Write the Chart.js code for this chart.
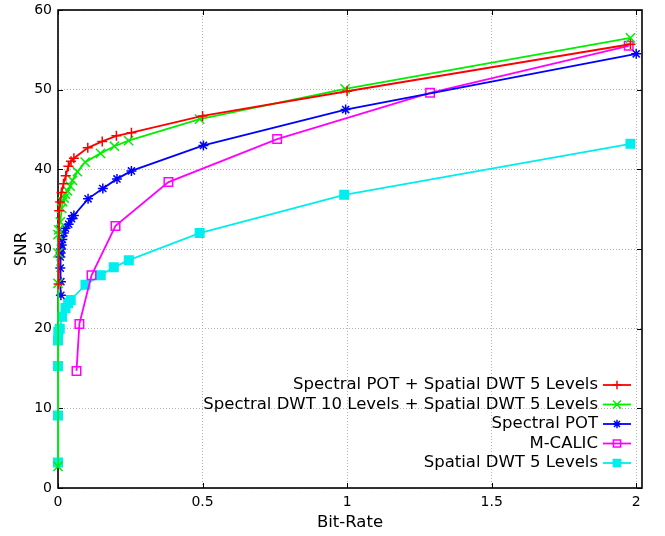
<!DOCTYPE html>
<html>
<head>
<meta charset="utf-8">
<script src="https://cdn.jsdelivr.net/npm/chart.js@4.4.1/dist/chart.umd.min.js"></script>
<style>
  html, body { margin: 0; padding: 0; background: #fff; }
  #wrap { width: 665px; height: 536px; position: relative; }
</style>
</head>
<body>
<div id="wrap"><canvas id="c" width="665" height="536"></canvas></div>
<script>
// Rate–distortion curves: SNR versus bit-rate for five coders.
const xTicks = [0, 0.5, 1, 1.5, 2];
const yTicks = [0, 10, 20, 30, 40, 50, 60];

const potDwtRate = [0.002, 0.004, 0.0075, 0.012, 0.019, 0.027, 0.036, 0.045, 0.055, 0.103, 0.153, 0.202, 0.254, 0.5, 1.0, 1.98];
const potDwtSnr  = [25.6, 34.8, 35.9, 37.1, 38.2, 39.2, 40.4, 41.0, 41.4, 42.7, 43.5, 44.2, 44.6, 46.7, 49.8, 55.7];

const dwt10Rate = [0.0, 0.0, 0.0, 0.0, 0.002, 0.008, 0.013, 0.016, 0.021, 0.025, 0.033, 0.042, 0.05, 0.067, 0.094, 0.147, 0.195, 0.244, 0.49, 0.993, 1.98];
const dwt10Snr  = [2.7, 25.7, 29.5, 31.8, 32.4, 33.4, 35.1, 35.9, 36.4, 36.9, 37.3, 37.9, 38.6, 39.7, 40.9, 42.0, 42.9, 43.6, 46.3, 50.1, 56.5];

const potRate = [0.01, 0.01, 0.008, 0.008, 0.009, 0.011, 0.013, 0.015, 0.02, 0.026, 0.037, 0.047, 0.055, 0.104, 0.155, 0.204, 0.254, 0.503, 0.995, 2.0];
const potSnr  = [24.2, 25.9, 27.6, 29.0, 29.5, 30.0, 30.5, 31.2, 32.0, 32.6, 33.1, 33.8, 34.2, 36.3, 37.6, 38.8, 39.8, 43.0, 47.5, 54.5];

const calicRate = [0.064, 0.074, 0.116, 0.199, 0.382, 0.758, 1.287, 1.974];
const calicSnr  = [14.7, 20.6, 26.7, 32.9, 38.4, 43.8, 49.6, 55.5];

const dwt5Rate = [0.0, 0.0, 0.0, 0.0, 0.001, 0.006, 0.014, 0.026, 0.035, 0.044, 0.095, 0.148, 0.193, 0.245, 0.49, 0.99, 1.98];
const dwt5Snr  = [3.2, 9.1, 15.3, 18.5, 19.6, 20.0, 21.5, 22.6, 23.2, 23.6, 25.5, 26.7, 27.7, 28.6, 32.0, 36.8, 43.2];

const seriesNames = [
  'Spectral POT + Spatial DWT 5 Levels',
  'Spectral DWT 10 Levels + Spatial DWT 5 Levels',
  'Spectral POT',
  'M-CALIC',
  'Spatial DWT 5 Levels'
];

const pairs = (xs, ys) => xs.map((x, i) => ({ x: x, y: ys[i] }));

const FONT = "'DejaVu Sans', sans-serif";

// Marker radius per point style, so every glyph is about 9–10 px across.
const markerRadius = { cross: 5, crossRot: 6.5, star: 5, rect: 6 };

function series(label, xs, ys, color, style, filled) {
  return {
    label: label,
    data: pairs(xs, ys),
    borderColor: color,
    backgroundColor: filled ? color : 'rgba(0,0,0,0)',
    pointBorderColor: color,
    pointBackgroundColor: filled ? color : 'rgba(0,0,0,0)',
    pointStyle: style,
    pointRadius: markerRadius[style],
    pointBorderWidth: 1.5,
    borderWidth: 1.8,
    tension: 0,
    fill: false,
    clip: false
  };
}

const datasets = [
  series(seriesNames[0], potDwtRate, potDwtSnr, '#ff0000', 'cross', false),
  series(seriesNames[1], dwt10Rate, dwt10Snr, '#00ee00', 'crossRot', false),
  series(seriesNames[2], potRate, potSnr, '#0000ff', 'star', false),
  series(seriesNames[3], calicRate, calicSnr, '#ff00ff', 'rect', false),
  series(seriesNames[4], dwt5Rate, dwt5Snr, '#00eeee', 'rect', true)
];

// Frame around the plot with inward tick marks on all four sides.
const framePlugin = {
  id: 'frame',
  beforeDatasetsDraw(chart) {
    const { ctx, chartArea: a, scales } = chart;
    ctx.save();
    ctx.strokeStyle = '#000';
    ctx.lineWidth = 1;
    const t = 5;
    scales.x.ticks.forEach(tk => {
      const px = Math.round(scales.x.getPixelForValue(tk.value)) + 0.5;
      ctx.beginPath();
      ctx.moveTo(px, a.bottom); ctx.lineTo(px, a.bottom - t);
      ctx.moveTo(px, a.top); ctx.lineTo(px, a.top + t);
      ctx.stroke();
    });
    scales.y.ticks.forEach(tk => {
      const py = Math.round(scales.y.getPixelForValue(tk.value)) + 0.5;
      ctx.beginPath();
      ctx.moveTo(a.left, py); ctx.lineTo(a.left + t, py);
      ctx.moveTo(a.right, py); ctx.lineTo(a.right - t, py);
      ctx.stroke();
    });
    ctx.lineWidth = 1.6;
    ctx.strokeRect(a.left, a.top, a.right - a.left, a.bottom - a.top);
    ctx.restore();
  }
};

// Key in the lower right: right-aligned names followed by a line sample.
const keyPlugin = {
  id: 'key',
  afterDatasetsDraw(chart) {
    const { ctx, chartArea: a } = chart;
    const rowH = 19.5;
    const lastY = a.bottom - 25;
    const sampleR = a.right - 11;
    const sampleL = sampleR - 28;
    const textR = sampleL - 5;
    ctx.save();
    ctx.font = '16.5px ' + FONT;
    ctx.textAlign = 'right';
    ctx.textBaseline = 'middle';
    const n = chart.data.datasets.length;
    chart.data.datasets.forEach((ds, i) => {
      const y = lastY - (n - 1 - i) * rowH;
      ctx.fillStyle = '#000';
      ctx.fillText(ds.label, textR, y);
      ctx.strokeStyle = ds.borderColor;
      ctx.lineWidth = ds.borderWidth;
      ctx.beginPath();
      ctx.moveTo(sampleL, y); ctx.lineTo(sampleR, y);
      ctx.stroke();
      ctx.fillStyle = ds.pointBackgroundColor;
      ctx.strokeStyle = ds.pointBorderColor;
      ctx.lineWidth = ds.pointBorderWidth;
      Chart.helpers.drawPoint(ctx, {
        pointStyle: ds.pointStyle,
        radius: ds.pointRadius * 0.85,
        borderWidth: ds.pointBorderWidth,
        rotation: 0
      }, (sampleL + sampleR) / 2, y);
    });
    ctx.restore();
  }
};

new Chart(document.getElementById('c'), {
  type: 'line',
  data: { datasets: datasets },
  options: {
    responsive: false,
    animation: false,
    devicePixelRatio: 1,
    layout: { padding: { top: 10, right: 23, left: 0, bottom: 0 } },
    plugins: { legend: { display: false }, tooltip: { enabled: false } },
    scales: {
      x: {
        type: 'linear',
        min: 0,
        max: 2.02,
        afterBuildTicks(scale) { scale.ticks = xTicks.map(v => ({ value: v })); },
        afterFit(scale) {
          scale.height = 48;
          scale.paddingLeft = 0;
          scale.paddingRight = 0;
        },
        ticks: {
          color: '#000',
          font: { family: FONT, size: 14 },
          padding: 6,
          maxRotation: 0,
          callback: v => String(v)
        },
        grid: { color: '#b4b4b4', lineWidth: 1, drawTicks: false },
        border: { display: false, dash: [1, 2] },
        title: {
          display: true,
          text: 'Bit-Rate',
          color: '#000',
          font: { family: FONT, size: 16.5 },
          padding: { top: 0, bottom: 3 }
        }
      },
      y: {
        type: 'linear',
        min: 0,
        max: 60,
        afterBuildTicks(scale) { scale.ticks = yTicks.map(v => ({ value: v })); },
        afterFit(scale) {
          scale.width = 58;
          scale.paddingTop = 0;
          scale.paddingBottom = 0;
        },
        ticks: {
          color: '#000',
          font: { family: FONT, size: 14 },
          padding: 6
        },
        grid: { color: '#b4b4b4', lineWidth: 1, drawTicks: false },
        border: { display: false, dash: [1, 2] },
        title: {
          display: true,
          text: 'SNR',
          color: '#000',
          font: { family: FONT, size: 16.5 },
          padding: { top: 12, bottom: 0 }
        }
      }
    }
  },
  plugins: [framePlugin, keyPlugin]
});
</script>
</body>
</html>
